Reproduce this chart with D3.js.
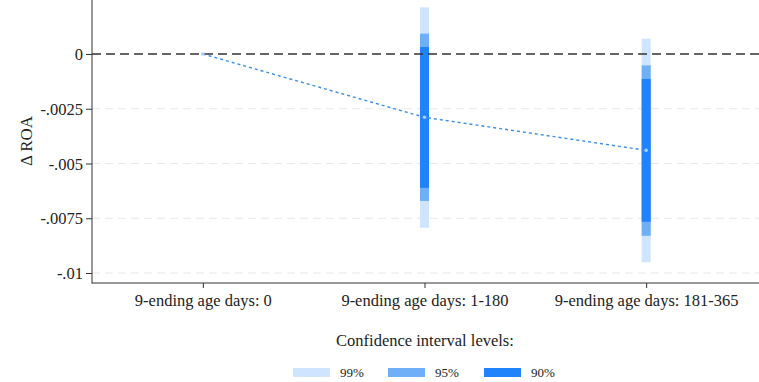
<!DOCTYPE html>
<html><head><meta charset="utf-8">
<script src="https://cdn.jsdelivr.net/npm/d3@7"></script>
<style>body{margin:0;background:#fff}svg{display:block}</style>
</head><body>
<svg id="c" width="759" height="382"></svg>
<script>
const categories = ["9-ending age days: 0", "9-ending age days: 1-180", "9-ending age days: 181-365"];
const estimates = [0, -0.00289, -0.0044];
const ci99Low = [null, -0.00793, -0.00951];
const ci99High = [null, 0.00213, 0.0007];
const ci95Low = [null, -0.00671, -0.0083];
const ci95High = [null, 0.00093, -0.00052];
const ci90Low = [null, -0.00611, -0.00766];
const ci90High = [null, 0.00032, -0.00114];
const yTicks = [0, -0.0025, -0.005, -0.0075, -0.01];
const yTickLabels = ["0", "-.0025", "-.005", "-.0075", "-.01"];
const levels = ["99%", "95%", "90%"];
const colors = ["#cfe4ff", "#6eaff8", "#1f83fc"];

const FONT = "'Liberation Serif', 'Times New Roman', serif";
const svg = d3.select("#c").attr("font-family", FONT);
const pL = 92, pR = 759, pT = 0, pB = 283;
const x = d3.scaleLinear().domain([0.5, 3.5]).range([pL, pR - 2]);
const y = d3.scaleLinear().domain([-0.01, 0]).range([273, 54]);

// gridlines
svg.append("g").selectAll("line").data(yTicks.filter(d => d !== 0)).join("line")
  .attr("x1", pL).attr("x2", pR).attr("y1", d => y(d)).attr("y2", d => y(d))
  .attr("stroke", "#e8e8e8").attr("stroke-width", 1.2).attr("stroke-dasharray", "8,5");

// CI bars
const bw = 9;
const layers = [[ci99Low, ci99High], [ci95Low, ci95High], [ci90Low, ci90High]];
layers.forEach((L, li) => {
  svg.append("g").selectAll("rect").data(categories.map((c, i) => ({i, lo: L[0][i], hi: L[1][i]})).filter(d => d.lo !== null))
    .join("rect")
    .attr("x", d => x(d.i + 1) - bw / 2).attr("width", bw)
    .attr("y", d => y(d.hi)).attr("height", d => y(d.lo) - y(d.hi))
    .attr("fill", colors[li]);
});

// zero line
svg.append("line").attr("x1", pL).attr("x2", pR).attr("y1", y(0)).attr("y2", y(0))
  .attr("stroke", "#333").attr("stroke-width", 1.6).attr("stroke-dasharray", "9,5");

// estimate line
const line = d3.line().x((d, i) => x(i + 1)).y(d => y(d));
svg.append("path").attr("d", line(estimates)).attr("fill", "none")
  .attr("stroke", "#3a8ee8").attr("stroke-width", 1.4).attr("stroke-dasharray", "3,3");
svg.append("g").selectAll("circle").data(estimates).join("circle")
  .attr("cx", (d, i) => x(i + 1)).attr("cy", d => y(d)).attr("r", 1.8).attr("fill", "#a8cdf8");

// axes
const yAxis = d3.axisLeft(y).tickValues(yTicks).tickFormat((d, i) => yTickLabels[i]).tickSize(6).tickPadding(3);
const gy = svg.append("g").attr("transform", `translate(${pL},0)`).call(yAxis)
  .attr("font-family", FONT).attr("font-size", 16.5);
gy.select(".domain").remove();
gy.selectAll(".tick line").attr("stroke", "#333");
gy.selectAll(".tick text").attr("fill", "#222").attr("dy", "0.34em");
svg.append("line").attr("x1", pL).attr("x2", pL).attr("y1", pT).attr("y2", pB + 0.5).attr("stroke", "#333").attr("stroke-width", 1);

const xAxis = d3.axisBottom(x).tickValues([1, 2, 3]).tickFormat((d) => categories[d - 1]).tickSize(5).tickPadding(6);
const gx = svg.append("g").attr("transform", `translate(0,${pB})`).call(xAxis)
  .attr("font-family", FONT).attr("font-size", 16.5);
gx.select(".domain").remove();
gx.selectAll(".tick line").attr("stroke", "#333");
gx.selectAll(".tick text").attr("fill", "#222");
svg.append("line").attr("x1", pL).attr("x2", pR).attr("y1", pB).attr("y2", pB).attr("stroke", "#333").attr("stroke-width", 1);

// y label
svg.append("text").attr("transform", "translate(32,141) rotate(-90)").attr("text-anchor", "middle")
  .attr("font-size", 17).attr("fill", "#222").text("Δ ROA");

// legend
svg.append("text").attr("x", 425).attr("y", 346).attr("text-anchor", "middle").attr("font-size", 16.5).attr("fill", "#222").text("Confidence interval levels:");
const lx = [293, 388, 484];
levels.forEach((l, i) => {
  svg.append("rect").attr("x", lx[i]).attr("y", 368).attr("width", 37).attr("height", 9).attr("fill", colors[i]);
  svg.append("text").attr("x", lx[i] + 47).attr("y", 377).attr("font-size", 13).attr("fill", "#222").text(l);
});
</script>
</body></html>
